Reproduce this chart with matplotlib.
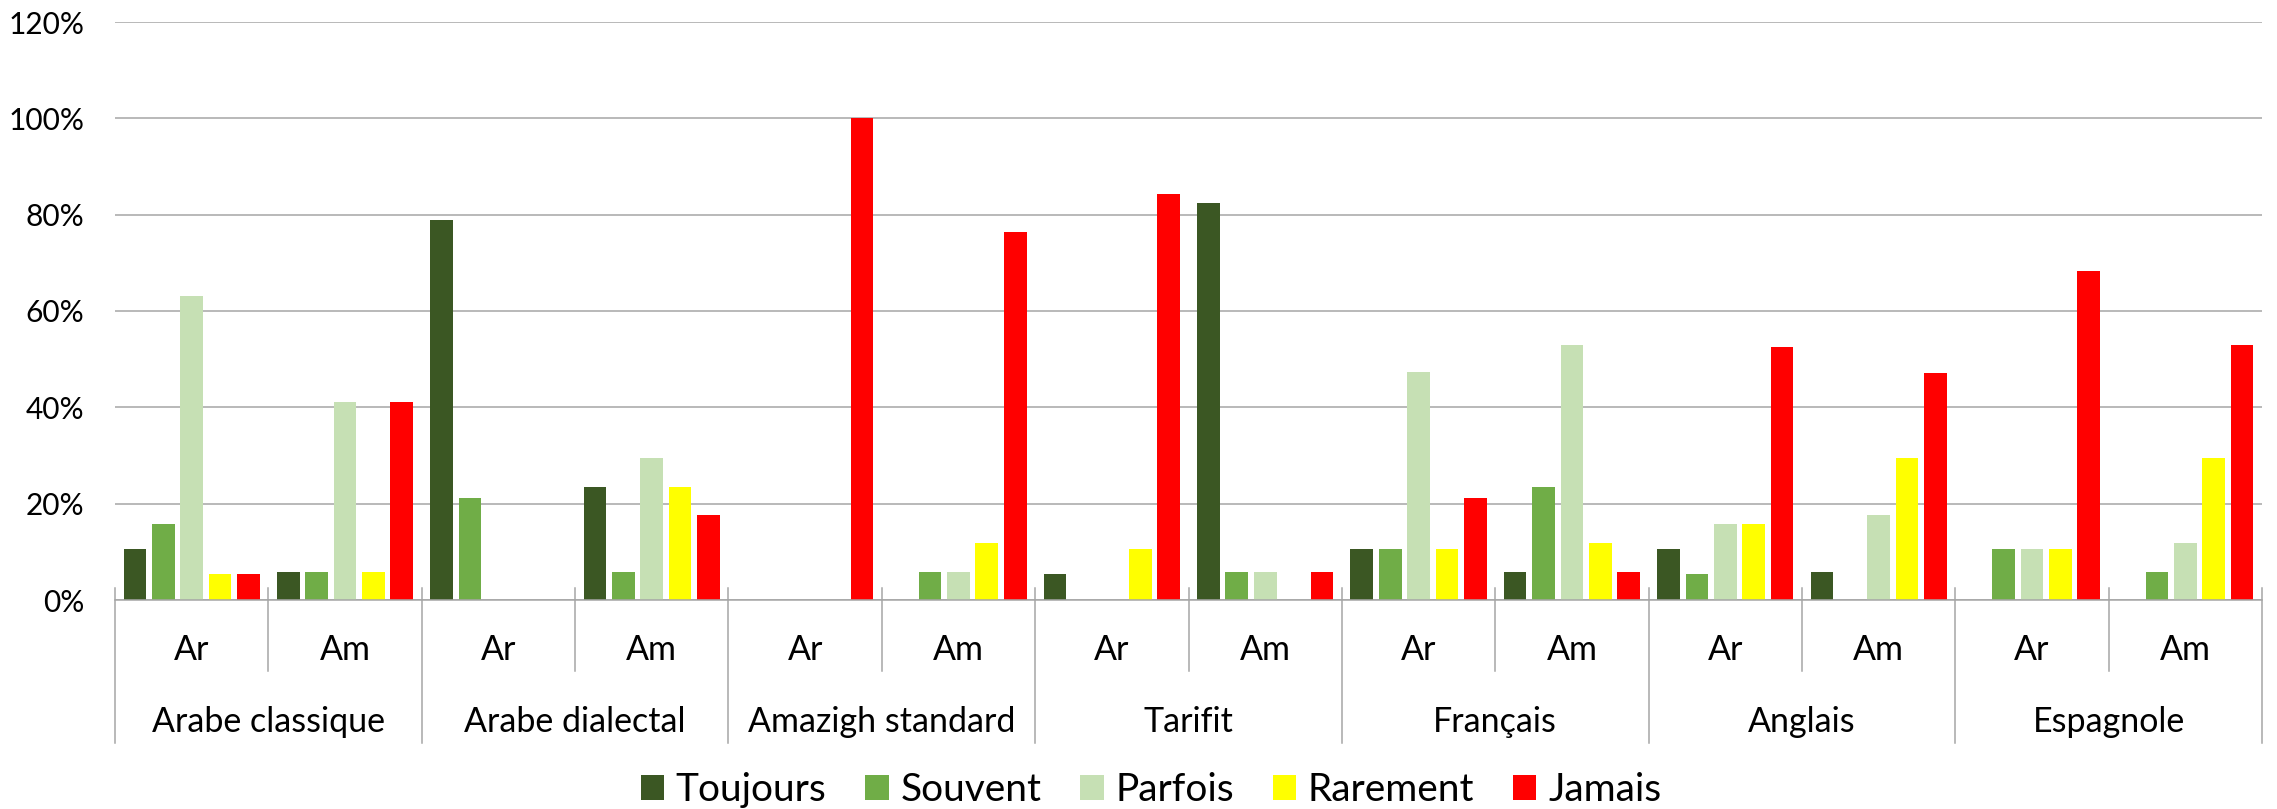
import numpy as np
import matplotlib
matplotlib.use("Agg")
import matplotlib.pyplot as plt
from matplotlib.transforms import blended_transform_factory
from matplotlib.patches import Patch

plt.rcParams['font.family'] = ['Lato', 'DejaVu Sans']

# Languages (outer level) and respondent groups (inner level)
languages = ["Arabe classique", "Arabe dialectal", "Amazigh standard", "Tarifit",
             "Français", "Anglais", "Espagnole"]
groups = ["Ar", "Am"]

series_names = ["Toujours", "Souvent", "Parfois", "Rarement", "Jamais"]
series_colors = ["#3b5723", "#70ad47", "#c6e0b4", "#ffff00", "#ff0000"]

# Percentages, ordered Ar, Am for each language in turn
toujours = [10.5, 5.9, 78.9, 23.5, 0.0, 0.0, 5.3, 82.4, 10.5, 5.9, 10.5, 5.9, 0.0, 0.0]
souvent  = [15.8, 5.9, 21.1, 5.9, 0.0, 5.9, 0.0, 5.9, 10.5, 23.5, 5.3, 0.0, 10.5, 5.9]
parfois  = [63.2, 41.2, 0.0, 29.4, 0.0, 5.9, 0.0, 5.9, 47.4, 52.9, 15.8, 17.6, 10.5, 11.8]
rarement = [5.3, 5.9, 0.0, 23.5, 0.0, 11.8, 10.5, 0.0, 10.5, 11.8, 15.8, 29.4, 10.5, 29.4]
jamais   = [5.3, 41.2, 0.0, 17.6, 100.0, 76.5, 84.2, 5.9, 21.1, 5.9, 52.6, 47.1, 68.4, 52.9]
series_values = [toujours, souvent, parfois, rarement, jamais]

yticks = [0, 20, 40, 60, 80, 100, 120]

fig = plt.figure(figsize=(22.77, 8.09), dpi=100)
ax = fig.add_axes([115 / 2277, 1 - 600 / 809, (2262 - 115) / 2277, (600 - 22) / 809])

n_cat = len(languages) * len(groups)
x = np.arange(n_cat)
pitch = 0.185
bar_w = 0.148
for i, (name, vals, col) in enumerate(zip(series_names, series_values, series_colors)):
    ax.bar(x + (i - 2) * pitch, vals, width=bar_w, color=col, label=name,
           zorder=3, linewidth=0)

ax.set_xlim(-0.5, n_cat - 0.5)
ax.set_ylim(0, 120)
ax.set_yticks(yticks)
ax.set_yticklabels([f"{v}%" for v in yticks], fontsize=21.5)
ax.tick_params(axis='y', length=0, pad=22)
ax.tick_params(axis='x', length=0, labelbottom=False)
ax.yaxis.grid(True, color="#a6a6a6", linewidth=1.1, zorder=0)
for s in ["left", "right", "top"]:
    ax.spines[s].set_visible(False)
ax.spines["bottom"].set_color("#a6a6a6")
ax.spines["bottom"].set_linewidth(1.1)
ax.spines["bottom"].set_zorder(4)

# Two-level category axis drawn below the plot
trans = blended_transform_factory(ax.transData, ax.transAxes)
h_px = 578.0
tick_top = 12 / h_px
sub_bottom = -71 / h_px
lang_bottom = -143 / h_px
line_kw = dict(color="#a6a6a6", linewidth=1.1, transform=trans, clip_on=False)

for k in range(n_cat + 1):
    xb = k - 0.5
    bottom = lang_bottom if k % 2 == 0 else sub_bottom
    ax.plot([xb, xb], [tick_top, bottom], **line_kw)

for k in range(n_cat):
    ax.text(k, -60 / h_px, groups[k % 2], transform=trans, ha="center",
            va="baseline", fontsize=24.5)

for j, lang in enumerate(languages):
    ax.text(2 * j + 0.5, -131.7 / h_px, lang, transform=trans, ha="center",
            va="baseline", fontsize=24.5)

handles = [Patch(facecolor=c, edgecolor="none") for c in series_colors]
fig.legend(handles, series_names, loc="center", ncol=5, frameon=False,
           bbox_to_anchor=(1151 / 2277, 1 - 790 / 809), fontsize=28,
           handlelength=0.6, handleheight=0.6, handletextpad=0.3,
           columnspacing=1.0, borderpad=0)

fig.savefig("out.png", dpi=100, facecolor="white")
